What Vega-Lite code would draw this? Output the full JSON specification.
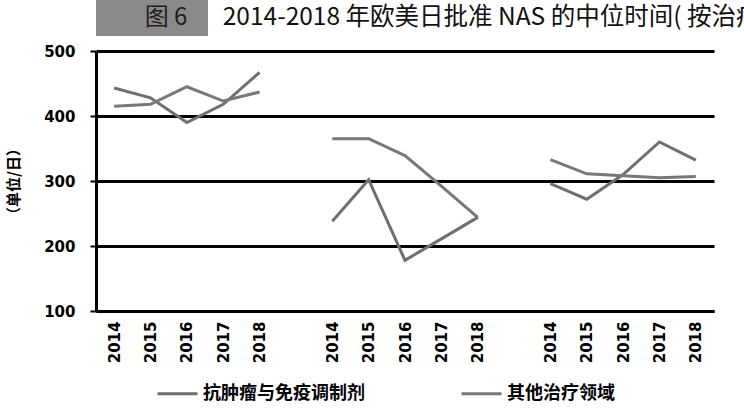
{
  "$schema": "https://vega.github.io/schema/vega-lite/v6.json",
  "padding": {"left": 6, "top": 0, "right": 4, "bottom": 4},
  "background": "white",
  "columns": 1,
  "align": "none",
  "spacing": 8,
  "config": {"view": {"stroke": null}},
  "concat": [
    {
      "spacing": 10,
      "hconcat": [
        {
          "width": 112,
          "height": 36,
          "view": {"fill": "#8a8a8a", "stroke": null},
          "data": {"values": [{"label": "图 6"}]},
          "mark": {"type": "text", "font": "Noto Sans CJK SC", "fontSize": 24, "color": "#1e1e1e", "dx": 14},
          "encoding": {"text": {"field": "label"}}
        },
        {
          "width": 610,
          "height": 36,
          "data": {"values": [{"label": "2014-2018 年欧美日批准 NAS 的中位时间( 按治疗领域 )"}]},
          "mark": {"type": "text", "font": "Noto Sans CJK SC", "fontSize": 24.5, "color": "#111111"},
          "encoding": {"text": {"field": "label"}}
        }
      ]
    },
    {
      "width": 618,
      "height": 260,
      "encoding": {
        "x": {
          "field": "pos",
          "type": "nominal",
          "title": null,
          "sort": null,
          "scale": {
            "type": "point",
            "padding": 0.5,
            "domain": ["EMA 2014", "EMA 2015", "EMA 2016", "EMA 2017", "EMA 2018", "_1",
                       "FDA 2014", "FDA 2015", "FDA 2016", "FDA 2017", "FDA 2018", "_2",
                       "PMDA 2014", "PMDA 2015", "PMDA 2016", "PMDA 2017", "PMDA 2018"]
          },
          "axis": {
            "labelExpr": "length(datum.value) > 4 ? slice(datum.value, -4) : ''",
            "labelAngle": -90,
            "labelFont": "DejaVu Sans",
            "labelFontSize": 15,
            "labelFontWeight": "bold",
            "labelColor": "black",
            "labelPadding": 10,
            "ticks": false,
            "domainColor": "black",
            "domainWidth": 3
          }
        },
        "y": {
          "field": "value",
          "type": "quantitative",
          "title": "（单位/日）",
          "scale": {"domain": [100, 500], "nice": false},
          "axis": {
            "tickCount": 4,
            "gridColor": "black",
            "gridWidth": 3,
            "domainColor": "black",
            "domainWidth": 3,
            "tickColor": "black",
            "tickWidth": 2,
            "tickSize": 6,
            "labelFont": "DejaVu Sans",
            "labelFontSize": 15,
            "labelFontWeight": "bold",
            "labelColor": "black",
            "labelPadding": 15,
            "titleFont": "Noto Sans CJK SC",
            "titleFontSize": 15,
            "titleFontWeight": "bold",
            "titleColor": "black",
            "titlePadding": 22
          }
        }
      },
      "layer": [
        {
          "data": {"values": [
            {"pos": "EMA 2014", "group": "EMA", "series": "抗肿瘤与免疫调制剂", "value": 443},
            {"pos": "EMA 2015", "group": "EMA", "series": "抗肿瘤与免疫调制剂", "value": 428},
            {"pos": "EMA 2016", "group": "EMA", "series": "抗肿瘤与免疫调制剂", "value": 390},
            {"pos": "EMA 2017", "group": "EMA", "series": "抗肿瘤与免疫调制剂", "value": 418},
            {"pos": "EMA 2018", "group": "EMA", "series": "抗肿瘤与免疫调制剂", "value": 467},
            {"pos": "EMA 2014", "group": "EMA", "series": "其他治疗领域", "value": 415},
            {"pos": "EMA 2015", "group": "EMA", "series": "其他治疗领域", "value": 418},
            {"pos": "EMA 2016", "group": "EMA", "series": "其他治疗领域", "value": 445},
            {"pos": "EMA 2017", "group": "EMA", "series": "其他治疗领域", "value": 423},
            {"pos": "EMA 2018", "group": "EMA", "series": "其他治疗领域", "value": 437},
            {"pos": "FDA 2014", "group": "FDA", "series": "抗肿瘤与免疫调制剂", "value": 238},
            {"pos": "FDA 2015", "group": "FDA", "series": "抗肿瘤与免疫调制剂", "value": 302},
            {"pos": "FDA 2016", "group": "FDA", "series": "抗肿瘤与免疫调制剂", "value": 178},
            {"pos": "FDA 2017", "group": "FDA", "series": "抗肿瘤与免疫调制剂", "value": 211},
            {"pos": "FDA 2018", "group": "FDA", "series": "抗肿瘤与免疫调制剂", "value": 244},
            {"pos": "FDA 2014", "group": "FDA", "series": "其他治疗领域", "value": 365},
            {"pos": "FDA 2015", "group": "FDA", "series": "其他治疗领域", "value": 365},
            {"pos": "FDA 2016", "group": "FDA", "series": "其他治疗领域", "value": 339},
            {"pos": "FDA 2017", "group": "FDA", "series": "其他治疗领域", "value": 292},
            {"pos": "FDA 2018", "group": "FDA", "series": "其他治疗领域", "value": 244},
            {"pos": "PMDA 2014", "group": "PMDA", "series": "抗肿瘤与免疫调制剂", "value": 296},
            {"pos": "PMDA 2015", "group": "PMDA", "series": "抗肿瘤与免疫调制剂", "value": 272},
            {"pos": "PMDA 2016", "group": "PMDA", "series": "抗肿瘤与免疫调制剂", "value": 310},
            {"pos": "PMDA 2017", "group": "PMDA", "series": "抗肿瘤与免疫调制剂", "value": 360},
            {"pos": "PMDA 2018", "group": "PMDA", "series": "抗肿瘤与免疫调制剂", "value": 332},
            {"pos": "PMDA 2014", "group": "PMDA", "series": "其他治疗领域", "value": 333},
            {"pos": "PMDA 2015", "group": "PMDA", "series": "其他治疗领域", "value": 311},
            {"pos": "PMDA 2016", "group": "PMDA", "series": "其他治疗领域", "value": 308},
            {"pos": "PMDA 2017", "group": "PMDA", "series": "其他治疗领域", "value": 305},
            {"pos": "PMDA 2018", "group": "PMDA", "series": "其他治疗领域", "value": 307}
          ]},
          "mark": {"type": "line", "strokeWidth": 3},
          "encoding": {
            "color": {
              "field": "series",
              "type": "nominal",
              "sort": ["抗肿瘤与免疫调制剂", "其他治疗领域"],
              "scale": {"range": ["#6f6f6f", "#787878"]},
              "legend": {
                "orient": "none",
                "legendX": 60,
                "legendY": 372,
                "direction": "horizontal",
                "title": null,
                "symbolType": "stroke",
                "symbolStrokeWidth": 3,
                "symbolSize": 1600,
                "labelFont": "Noto Sans CJK SC",
                "labelFontSize": 18,
                "labelFontWeight": "bold",
                "labelColor": "black",
                "labelLimit": 300,
                "labelOffset": 4,
                "columnPadding": 90
              }
            },
            "detail": {"field": "group"}
          }
        },
        {
          "data": {"values": [
            {"pos": "EMA 2016", "group": "EMA"},
            {"pos": "FDA 2016", "group": "FDA"},
            {"pos": "PMDA 2016", "group": "PMDA"}
          ]},
          "mark": {"type": "bar", "width": 62, "color": "#7d7d7d", "opacity": 1},
          "encoding": {"y": {"datum": 106}, "y2": {"datum": 154}}
        },
        {
          "data": {"values": [
            {"pos": "EMA 2016", "group": "EMA"},
            {"pos": "FDA 2016", "group": "FDA"},
            {"pos": "PMDA 2016", "group": "PMDA"}
          ]},
          "mark": {"type": "text", "color": "white", "fontWeight": "bold", "fontSize": 16, "font": "DejaVu Sans"},
          "encoding": {"y": {"datum": 130}, "text": {"field": "group"}}
        }
      ]
    }
  ]
}
